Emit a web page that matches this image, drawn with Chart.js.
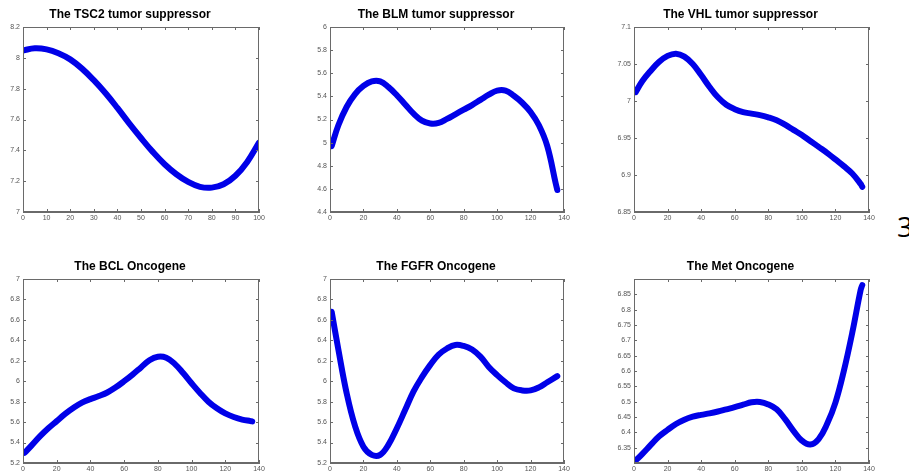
<!DOCTYPE html>
<html>
<head>
<meta charset="utf-8">
<script src="https://cdn.jsdelivr.net/npm/chart.js@4/dist/chart.umd.min.js"></script>
<style>
html,body{margin:0;padding:0;background:#fff;width:909px;height:473px;overflow:hidden;position:relative;}
canvas{position:absolute;}
#pg{position:absolute;left:897px;top:212px;font-family:"Open Sans",sans-serif;font-size:28px;line-height:28px;color:#000;}
</style>
</head>
<body>
<canvas id="c1"></canvas>
<canvas id="c2"></canvas>
<canvas id="c3"></canvas>
<canvas id="c4"></canvas>
<canvas id="c5"></canvas>
<canvas id="c6"></canvas>
<div id="pg">3</div>
<script>
// ---- tick labels ----
const xTicks100 = [0,10,20,30,40,50,60,70,80,90,100];
const xTicks140 = [0,20,40,60,80,100,120,140];
const tsc2YTicks = [7,7.2,7.4,7.6,7.8,8,8.2];
const blmYTicks = [4.4,4.6,4.8,5,5.2,5.4,5.6,5.8,6];
const vhlYTicks = [6.85,6.9,6.95,7,7.05,7.1];
const bclYTicks = [5.2,5.4,5.6,5.8,6,6.2,6.4,6.6,6.8,7];
const fgfrYTicks = [5.2,5.4,5.6,5.8,6,6.2,6.4,6.6,6.8,7];
const metYTicks = [6.35,6.4,6.45,6.5,6.55,6.6,6.65,6.7,6.75,6.8,6.85];

// ---- titles ----
const titles = ["The TSC2 tumor suppressor","The BLM tumor suppressor","The VHL tumor suppressor",
                "The BCL Oncogene","The FGFR Oncogene","The Met Oncogene"];

// ---- data ----
const tsc2X = [0,5,10,15,20,25,30,35,40,45,50,55,60,65,70,75,80,85,90,95,100];
const tsc2Y = [8.048,8.062,8.055,8.03,7.99,7.93,7.855,7.77,7.675,7.575,7.48,7.39,7.31,7.245,7.195,7.163,7.158,7.18,7.235,7.325,7.45];

const geneX = [1,5,10,15,20,25,30,35,40,45,50,55,60,65,70,75,80,85,90,95,100,105,110,115,120,125,130,135,136];
const blmY  = [4.97,5.15,5.31,5.42,5.49,5.53,5.53,5.48,5.41,5.33,5.25,5.19,5.165,5.17,5.205,5.245,5.285,5.325,5.37,5.415,5.45,5.45,5.405,5.345,5.265,5.15,4.97,4.65,4.59];
const vhlY  = [7.012,7.027,7.041,7.053,7.061,7.064,7.06,7.05,7.035,7.019,7.005,6.995,6.989,6.985,6.983,6.981,6.978,6.974,6.968,6.961,6.954,6.946,6.938,6.93,6.921,6.912,6.902,6.888,6.884];
const bclY  = [5.30,5.37,5.46,5.54,5.61,5.68,5.74,5.79,5.825,5.855,5.89,5.94,6.0,6.065,6.135,6.205,6.24,6.23,6.17,6.08,5.98,5.885,5.80,5.735,5.685,5.65,5.625,5.61,5.607];
const fgfrY = [6.68,6.31,5.88,5.56,5.36,5.28,5.28,5.38,5.54,5.72,5.90,6.04,6.16,6.26,6.32,6.355,6.345,6.31,6.24,6.14,6.06,5.99,5.93,5.91,5.91,5.94,5.99,6.04,6.05];
const metY  = [6.308,6.33,6.359,6.387,6.408,6.427,6.441,6.451,6.457,6.462,6.468,6.475,6.482,6.49,6.498,6.499,6.491,6.475,6.443,6.405,6.373,6.36,6.378,6.427,6.497,6.60,6.724,6.864,6.88];

// ---- layout (plot boxes) ----
const panels = [
  {id:'c1', L:23,  R:259, T:27,  B:212, title:titles[0], xs:tsc2X, ys:tsc2Y, xmin:0, xmax:100, xt:xTicks100, ymin:7,    ymax:8.2, yt:tsc2YTicks},
  {id:'c2', L:330, R:564, T:27,  B:212, title:titles[1], xs:geneX, ys:blmY,  xmin:0, xmax:140, xt:xTicks140, ymin:4.4,  ymax:6,   yt:blmYTicks},
  {id:'c3', L:634, R:869, T:27,  B:212, title:titles[2], xs:geneX, ys:vhlY,  xmin:0, xmax:140, xt:xTicks140, ymin:6.85, ymax:7.1, yt:vhlYTicks},
  {id:'c4', L:23,  R:259, T:279, B:463, title:titles[3], xs:geneX, ys:bclY,  xmin:0, xmax:140, xt:xTicks140, ymin:5.2,  ymax:7,   yt:bclYTicks},
  {id:'c5', L:330, R:564, T:279, B:463, title:titles[4], xs:geneX, ys:fgfrY, xmin:0, xmax:140, xt:xTicks140, ymin:5.2,  ymax:7,   yt:fgfrYTicks},
  {id:'c6', L:634, R:869, T:279, B:463, title:titles[5], xs:geneX, ys:metY,  xmin:0, xmax:140, xt:xTicks140, ymin:6.3,  ymax:6.9, yt:metYTicks}
];

const YW = 22, TH = 27, XH = 14, RP = 22;
const FONT = "'Liberation Sans', Arial, sans-serif";
const AXC = '#6a6a6a';

const boxPlugin = {
  id:'matlabBox',
  afterDraw(chart){
    const {ctx, chartArea:a, scales:{x,y}} = chart;
    ctx.save();
    ctx.strokeStyle = AXC;
    ctx.lineWidth = 1;
    ctx.strokeRect(Math.round(a.left)+0.5, Math.round(a.top)+0.5, Math.round(a.width)-1, Math.round(a.height)-1);
    ctx.beginPath();
    const tl = 3;
    x.ticks.forEach(t=>{
      const px = Math.round(x.getPixelForValue(t.value))+0.5;
      ctx.moveTo(px, a.bottom); ctx.lineTo(px, a.bottom-tl);
      ctx.moveTo(px, a.top); ctx.lineTo(px, a.top+tl);
    });
    y.ticks.forEach(t=>{
      const py = Math.round(y.getPixelForValue(t.value))+0.5;
      ctx.moveTo(a.left, py); ctx.lineTo(a.left+tl, py);
      ctx.moveTo(a.right, py); ctx.lineTo(a.right-tl, py);
    });
    ctx.stroke();
    ctx.restore();
  }
};

panels.forEach(p=>{
  const cv = document.getElementById(p.id);
  const w = (p.R - p.L) + YW + RP;
  const h = (p.B - p.T) + TH + XH;
  cv.width = w; cv.height = h;
  cv.style.width = w+'px'; cv.style.height = h+'px';
  cv.style.left = (p.L - YW)+'px';
  cv.style.top = (p.T - TH)+'px';
  const pts = p.xs.map((xv,i)=>({x:xv, y:p.ys[i]}));
  new Chart(cv, {
    type:'line',
    data:{datasets:[{data:pts, borderColor:'#0000e8', borderWidth:6, pointRadius:0, tension:0.4, borderCapStyle:'round', borderJoinStyle:'round', fill:false}]},
    options:{
      responsive:false, animation:false, devicePixelRatio:1,
      layout:{padding:{left:0,right:RP,top:0,bottom:0}},
      plugins:{
        legend:{display:false}, tooltip:{enabled:false},
        title:{display:true, text:p.title, color:'#000', font:{family:FONT, size:12, weight:'bold'}, padding:{top:7.6,bottom:5}}
      },
      scales:{
        x:{type:'linear', min:p.xmin, max:p.xmax,
           afterBuildTicks:s=>{s.ticks = p.xt.map(v=>({value:v}));},
           afterFit:s=>{s.height = XH;},
           ticks:{font:{family:FONT,size:7}, color:'#555', padding:2, maxRotation:0, autoSkip:false, callback:v=>String(+(+v).toFixed(2))},
           grid:{drawOnChartArea:false, drawTicks:false}, border:{color:AXC}},
        y:{type:'linear', min:p.ymin, max:p.ymax,
           afterBuildTicks:s=>{s.ticks = p.yt.map(v=>({value:v}));},
           afterFit:s=>{s.width = YW;},
           ticks:{font:{family:FONT,size:7}, color:'#555', padding:3, autoSkip:false, callback:v=>String(+(+v).toFixed(2))},
           grid:{drawOnChartArea:false, drawTicks:false}, border:{color:AXC}}
      }
    },
    plugins:[boxPlugin]
  });
});
</script>
</body>
</html>
